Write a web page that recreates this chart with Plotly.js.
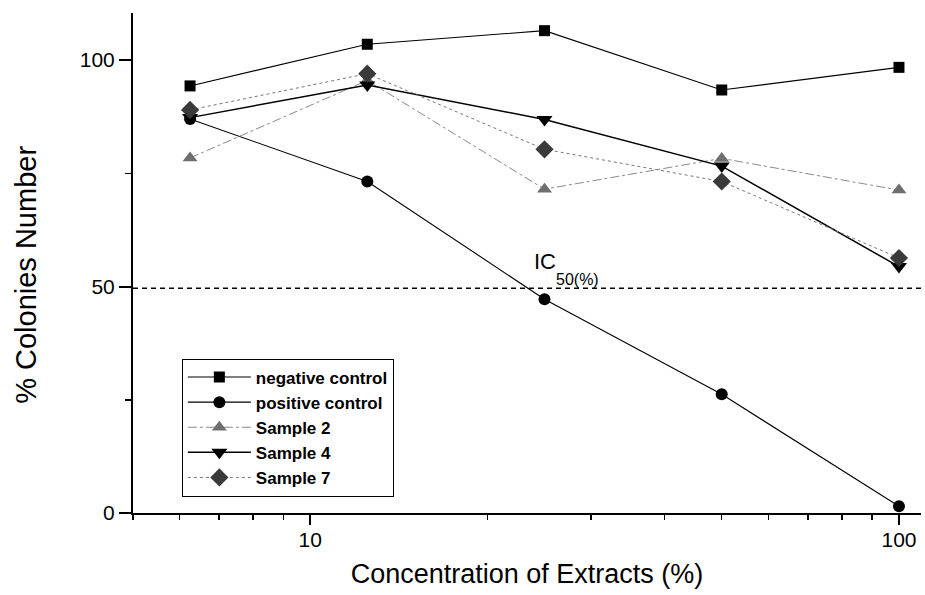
<!DOCTYPE html>
<html>
<head>
<meta charset="utf-8">
<script src="https://cdn.plot.ly/plotly-3.0.1.min.js"></script>
<style>
  html, body { margin: 0; padding: 0; background: #fff; }
  #chart { width: 925px; height: 595px; }
</style>
</head>
<body>
<div id="chart"></div>
<script>
const concentration = [6.25, 12.5, 25, 50, 100];
const negativeControl = [94.3, 103.5, 106.5, 93.4, 98.4];
const positiveControl = [87.0, 73.2, 47.2, 26.2, 1.5];
const sample2 = [78.4, 95.5, 71.5, 78.3, 71.3];
const sample4 = [87.3, 94.5, 86.9, 76.6, 54.4];
const sample7 = [89.0, 97.0, 80.3, 73.2, 56.3];
const seriesNames = ["negative control", "positive control", "Sample 2", "Sample 4", "Sample 7"];
const ic50Level = 49.6;
const xTickVals = [10, 100];
const yTickVals = [0, 50, 100];

const FONT = "Liberation Sans, Arial, sans-serif";

const traces = [
  {
    x: concentration, y: negativeControl, name: seriesNames[0], mode: "lines+markers",
    line: { color: "#000", width: 1.1 },
    marker: { symbol: "square", size: 11, color: "#000" }
  },
  {
    x: concentration, y: positiveControl, name: seriesNames[1], mode: "lines+markers",
    line: { color: "#000", width: 1.1 },
    marker: { symbol: "circle", size: 12, color: "#000" }
  },
  {
    x: concentration, y: sample2, name: seriesNames[2], mode: "lines+markers",
    line: { color: "#8a8a8a", width: 1, dash: "dashdot" },
    marker: { symbol: "triangle-up", size: 13, color: "#6e6e6e" }
  },
  {
    x: concentration, y: sample4, name: seriesNames[3], mode: "lines+markers",
    line: { color: "#000", width: 1.5 },
    marker: { symbol: "triangle-down", size: 14, color: "#000" }
  },
  {
    x: concentration, y: sample7, name: seriesNames[4], mode: "lines+markers",
    line: { color: "#777", width: 1, dash: "dot" },
    marker: { symbol: "diamond", size: 14, color: "#3a3a3a" }
  }
];

const layout = {
  width: 925, height: 595,
  margin: { l: 133, r: 4, t: 13, b: 82 },
  paper_bgcolor: "#fff", plot_bgcolor: "#fff",
  font: { family: FONT, color: "#000" },
  showlegend: true,
  legend: {
    x: 0.062, y: 0.033, xanchor: "left", yanchor: "bottom",
    bordercolor: "#000", borderwidth: 1, bgcolor: "#fff",
    font: { family: FONT, size: 17, color: "#000", weight: "bold" },
    tracegroupgap: 0, itemwidth: 63
  },
  xaxis: {
    type: "log",
    range: [Math.log10(5), Math.log10(109)],
    tickvals: xTickVals, ticktext: xTickVals.map(String),
    ticks: "outside", ticklen: 10, tickwidth: 2, tickcolor: "#000",
    ticklabelstandoff: -3,
    minor: { ticks: "outside", ticklen: 5, tickwidth: 1.5, tickcolor: "#000", dtick: "D1", showgrid: false },
    showline: true, linecolor: "#000", linewidth: 2,
    showgrid: false, zeroline: false,
    tickfont: { family: FONT, size: 21, color: "#000" },
    title: { text: "Concentration of Extracts (%)", font: { family: FONT, size: 27, color: "#000" }, standoff: 14 }
  },
  yaxis: {
    range: [0, 110.4],
    tickvals: yTickVals,
    ticks: "outside", ticklen: 12, tickwidth: 2, tickcolor: "#000",
    minor: { ticks: "outside", ticklen: 6, tickwidth: 1.5, tickcolor: "#000", dtick: 25, showgrid: false },
    showline: true, linecolor: "#000", linewidth: 2,
    showgrid: false, zeroline: false,
    tickfont: { family: FONT, size: 21, color: "#000" }
  },
  shapes: [
    {
      type: "line", xref: "paper", yref: "y", x0: 0, x1: 1, y0: ic50Level, y1: ic50Level,
      line: { color: "#000", width: 1.5, dash: "5px,4px" }, layer: "below"
    }
  ],
  annotations: [
    {
      x: -0.136, y: 0.476, xref: "paper", yref: "paper",
      xanchor: "center", yanchor: "middle", showarrow: false, textangle: -90,
      text: "% Colonies Number",
      font: { family: FONT, size: 29, color: "#000" }
    },
    {
      x: 1.3761, y: 55.5, xref: "x", yref: "y",
      xanchor: "left", yanchor: "middle", showarrow: false,
      text: "IC",
      font: { family: FONT, size: 22, color: "#000" }
    },
    {
      x: 1.4134, y: 51.6, xref: "x", yref: "y",
      xanchor: "left", yanchor: "middle", showarrow: false,
      text: "50(%)",
      font: { family: FONT, size: 16, color: "#000" }
    }
  ]
};

Plotly.newPlot("chart", traces, layout, { staticPlot: true, displayModeBar: false });
</script>
</body>
</html>
